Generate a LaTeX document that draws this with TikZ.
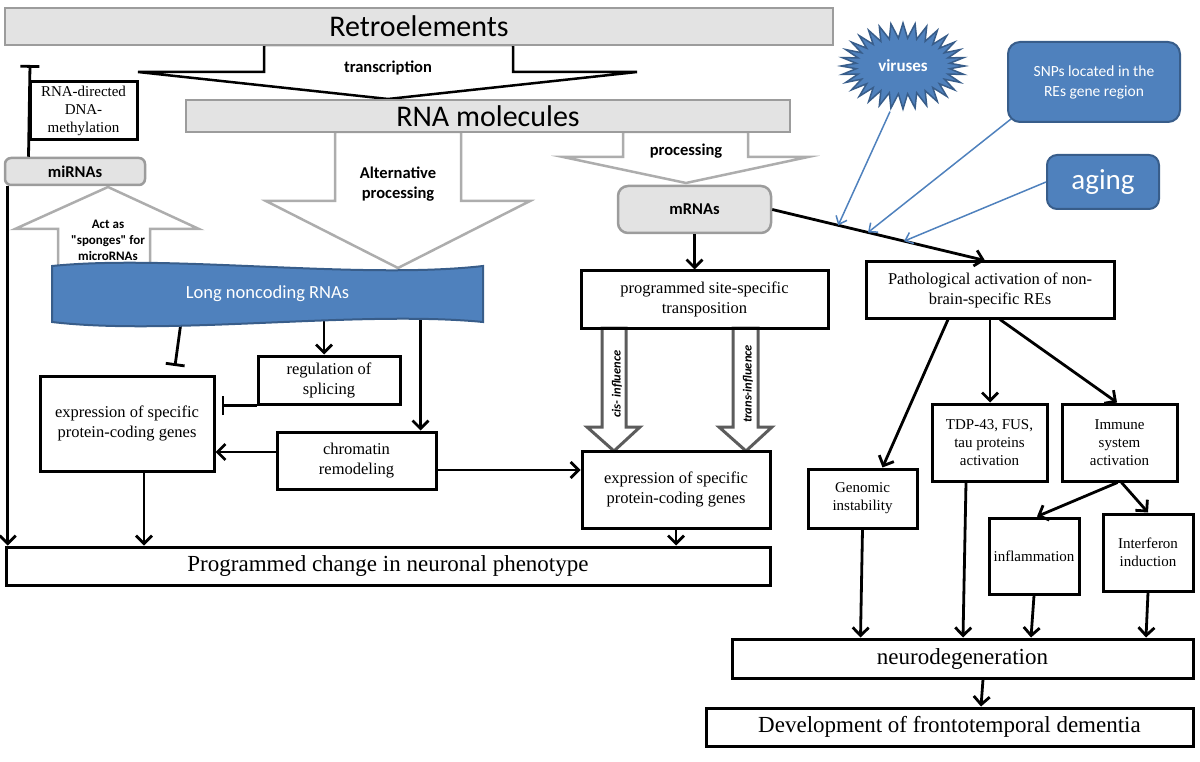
\documentclass[tikz,border=0pt]{standalone}
\usepackage{fontspec}
\setmainfont{Liberation Serif}
\newfontfamily\cali{Carlito}
\usetikzlibrary{arrows.meta,shapes.symbols,backgrounds}
\definecolor{boxgray}{HTML}{E3E3E3}
\definecolor{linegray}{HTML}{9C9C9C}
\definecolor{arrowgray}{HTML}{ADADAD}
\definecolor{influgray}{HTML}{5C5C5C}
\definecolor{reblue}{HTML}{4F81BD}
\definecolor{reblueline}{HTML}{385D8A}
\newcommand\fsz[2]{\fontsize{#1}{#2}\selectfont}
\begin{document}
\begin{tikzpicture}
  [x=1pt,y=-1pt,
  box/.style={draw,line width=3pt,inner sep=1pt,align=center},
  graybox/.style={draw=linegray,fill=boxgray,line width=2.5pt,inner sep=0pt,align=center},
  bluebox/.style={draw=reblueline,fill=reblue,text=white,line width=2pt,rounded corners=12pt,align=center},
  conn/.style={line width=2.8pt,-{Straight Barb[length=8pt,width=16pt]}},
  inh/.style={line width=2.8pt,-{Bar[width=19pt]}},
  bluearr/.style={draw=reblue,line width=1.5pt,-{Straight Barb[length=7pt,width=12pt]}},
  blockarrow/.style={fill=white,line width=2.5pt,line join=miter},
  boldlabel/.style={font=\cali\bfseries\fsz{16.5}{19.5},align=center}]
\useasboundingbox (0,0) rectangle (1200,762);
\draw[blockarrow] (264,45) -- (264,72) -- (138,72) -- (388,99) -- (637,72) -- (513,72) -- (513,45) -- cycle;
\draw[blockarrow,draw=arrowgray] (335,132) -- (335,201) -- (266,201) -- (398,268) -- (530,201) -- (461,201) -- (461,132) -- cycle;
\draw[blockarrow,draw=arrowgray] (623,132) -- (623,157) -- (563,157) -- (686,183) -- (808,157) -- (748,157) -- (748,132) -- cycle;
\draw[blockarrow,draw=arrowgray] (58,268) -- (58,229) -- (15,229) -- (108,187) -- (199,229) -- (150,229) -- (150,268) -- cycle;
\draw[blockarrow,draw=influgray,line width=3pt] (602,328) -- (602,427) -- (587,427) -- (614,451) -- (640,427) -- (626,427) -- (626,328) -- cycle;
\draw[blockarrow,draw=influgray,line width=3pt] (733,328) -- (733,427) -- (719,427) -- (746,451) -- (772,427) -- (758,427) -- (758,328) -- cycle;
\node[boldlabel] (transcr) at (388,68) {transcription};
\node[boldlabel] (altproc) at (398,184) {Alternative\\processing};
\node[boldlabel] (proc) at (686,151) {processing};
\node[boldlabel,font=\cali\bfseries\fsz{13}{16}] (sponge) at (108,240) {Act as\\"sponges" for\\microRNAs};
\node[rotate=90,font=\cali\bfseries\itshape\fsz{12.5}{15}] (cis) at (617,384) {cis- influence};
\node[rotate=90,font=\cali\bfseries\itshape\fsz{12.5}{15}] (trans) at (748,384) {trans-influence};
\draw[fill=reblue,draw=reblueline,line width=2pt] (52,266) .. controls (170,254) and (360,280) .. (483,266) -- (483,322) .. controls (360,310) and (170,336) .. (52,322) -- cycle;
\node[graybox,minimum width=828pt,minimum height=37pt,font=\cali\fsz{30}{35}] (retro) at (419,26.5) {Retroelements};
\node[graybox,minimum width=604pt,minimum height=32pt,font=\cali\fsz{30}{35}] (rna) at (488,116) {RNA molecules};
\node[box,minimum width=107pt,minimum height=58pt,font=\fsz{15}{18}] (methyl) at (83.5,111) {RNA-directed\\DNA-\\methylation};
\node[graybox,rounded corners=6pt,minimum width=140pt,minimum height=27pt,font=\cali\bfseries\fsz{16.5}{19.5}] (mirna) at (75,171.5) {miRNAs};
\node[graybox,rounded corners=10pt,minimum width=153pt,minimum height=47pt,font=\cali\bfseries\fsz{16.5}{19.5}] (mrna) at (694.5,209.5) {mRNAs};
\node[minimum width=431pt,minimum height=56pt,text=white,font=\cali\fsz{18.5}{22}] (lnc) at (267.5,294) {Long noncoding RNAs};
\node[box,minimum width=142pt,minimum height=48pt,font=\fsz{16.5}{20}] (reg) at (329,380) {regulation of\\splicing};
\node[box,minimum width=174pt,minimum height=95pt,font=\fsz{16.5}{20}] (expA) at (127,423.5) {expression of specific\\protein-coding genes};
\node[box,minimum width=159pt,minimum height=57pt,font=\fsz{16.5}{20}] (chrom) at (356.5,460.5) {chromatin\\remodeling};
\node[box,minimum width=764pt,minimum height=38pt,font=\fsz{23}{27}] (pheno) at (388,566) {Programmed change in neuronal phenotype};
\node[box,minimum width=247pt,minimum height=57pt,font=\fsz{16.5}{20}] (transp) at (704.5,299.5) {programmed site-specific\\transposition};
\node[box,minimum width=188pt,minimum height=77pt,font=\fsz{16.5}{20}] (expB) at (676,489.5) {expression of specific\\protein-coding genes};
\node[box,minimum width=248pt,minimum height=56pt,font=\fsz{16.5}{20}] (patho) at (990,290) {Pathological activation of non-\\brain-specific REs};
\node[starburst,starburst points=32,starburst point height=15pt,random starburst=0,fill=reblue,draw=reblueline,line width=1.5pt,minimum width=124pt,minimum height=86pt,inner sep=0pt,text=white,font=\cali\bfseries\fsz{17}{20}] (viruses) at (903,66) {viruses};
\node[bluebox,minimum width=172pt,minimum height=80pt,font=\cali\fsz{15.5}{20}] (snp) at (1094,82) {SNPs located in the\\REs gene region};
\node[bluebox,rounded corners=10pt,minimum width=112pt,minimum height=54pt,font=\cali\fsz{29}{34}] (aging) at (1103,182) {aging};
\node[box,minimum width=109pt,minimum height=59pt,font=\fsz{15}{18}] (genom) at (862.5,498.5) {Genomic\\instability};
\node[box,minimum width=115pt,minimum height=77pt,font=\fsz{15}{18}] (tdp) at (989.5,442.5) {TDP-43, FUS,\\tau proteins\\activation};
\node[box,minimum width=115pt,minimum height=77pt,font=\fsz{15}{18}] (immune) at (1119.5,442.5) {Immune\\system\\activation};
\node[box,minimum width=90pt,minimum height=76pt,font=\fsz{15}{18}] (inflam) at (1034,556) {inflammation};
\node[box,minimum width=90pt,minimum height=77pt,font=\fsz{15}{18}] (interf) at (1148,552.5) {Interferon\\induction};
\node[box,minimum width=461pt,minimum height=39pt,font=\fsz{23}{27}] (neuro) at (962.5,658.5) {neurodegeneration};
\node[box,minimum width=487pt,minimum height=38pt,font=\fsz{23}{27}] (dement) at (949.5,727) {Development of frontotemporal dementia};
\coordinate (methtop) at (30,65);
\coordinate (lncbar) at (175,366);
\draw[inh] (mirna.north -| methyl.west) -- (methtop);
\draw[conn] ([xshift=4pt]mirna.south west) -- ([xshift=4pt]mirna.south west |- pheno.north);
\begin{scope}[on background layer]
  \draw[inh] (lnc.south -| 181,0) -- (lncbar);
  \draw[conn] ([xshift=-5pt]reg.north |- lnc.center) -- ([xshift=-5pt]reg.north);
  \draw[conn] ([xshift=-17pt]chrom.north east |- lnc.center) -- ([xshift=-17pt]chrom.north east);
\end{scope}
\draw[inh] (reg.south west) -- ([xshift=6pt]reg.south west -| expA.east);
\draw[conn] ([yshift=8.5pt]chrom.west) -- ([yshift=8.5pt]chrom.west -| expA.east);
\draw[conn] ([yshift=-9.5pt]chrom.east) -- ([yshift=-9.5pt]chrom.east -| expB.west);
\draw[conn] ([xshift=17pt]expA.south) -- ([xshift=17pt]expA.south |- pheno.north);
\draw[conn] (expB.south) -- (expB.south |- pheno.north);
\draw[conn] (mrna.south) -- (mrna.south |- transp.north);
\draw[conn] (mrna.east) -- coordinate[pos=0.31] (hitV) coordinate[pos=0.45] (hitS) coordinate[pos=0.62] (hitA) ([xshift=-5pt]patho.north);
\draw[bluearr] ([xshift=-13pt]viruses.south) -- (hitV);
\draw[bluearr] ([shift={(4pt,4pt)}]snp.south west) -- (hitS);
\draw[bluearr] (aging.west) -- (hitA);
\draw[conn] ([xshift=-42pt]patho.south) -- ([xshift=20pt]genom.north);
\draw[conn] (patho.south) -- (patho.south |- tdp.north);
\draw[conn] ([xshift=10pt]patho.south) -- ([xshift=-2.5pt]immune.north);
\draw[conn] ([xshift=-2pt]immune.south) -- ([xshift=3pt]inflam.north);
\draw[conn] ([xshift=2pt]immune.south) -- (interf.north);
\draw[conn] (genom.south) -- ([xshift=-2pt]genom.south |- neuro.north);
\draw[conn] ([xshift=-23.5pt]tdp.south) -- ([xshift=-26.5pt]tdp.south |- neuro.north);
\draw[conn] (inflam.south) -- ([xshift=-3pt]inflam.south |- neuro.north);
\draw[conn] (interf.south) -- ([xshift=-2pt]interf.south |- neuro.north);
\draw[conn] ([xshift=20.5pt]neuro.south) -- ([xshift=31.5pt]dement.north);
\end{tikzpicture}
\end{document}
